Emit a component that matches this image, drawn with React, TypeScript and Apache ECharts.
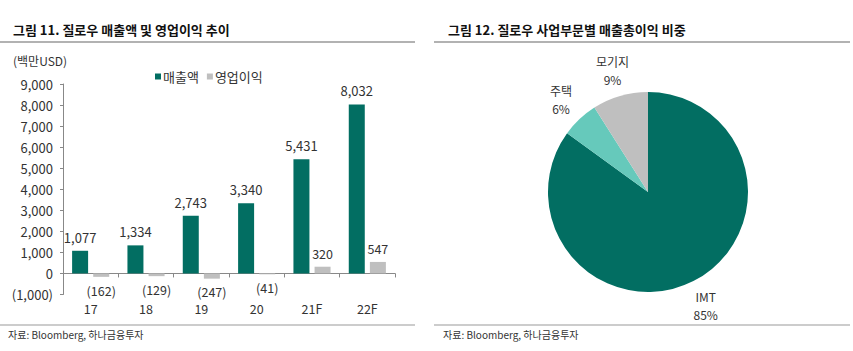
import React, { useEffect, useRef } from "react";
import * as echarts from "echarts";

const categories = ["17", "18", "19", "20", "21F", "22F"];
const revenue = [1077, 1334, 2743, 3340, 5431, 8032];
const operatingProfit = [-162, -129, -247, -41, 320, 547];
const seriesNames = ["매출액", "영업이익"];
const pieNames = ["IMT", "주택", "모기지"];
const pieValues = [85, 6, 9];
const titleLeft = "그림 11. 질로우 매출액 및 영업이익 추이";
const titleRight = "그림 12. 질로우 사업부문별 매출총이익 비중";
const sourceText = "자료: Bloomberg, 하나금융투자";
const unitText = "(백만USD)";

const FONT = "'Noto Sans CJK KR', 'Noto Sans', sans-serif";
const TEAL = "#026e62";
const GRAY = "#bfbfbf";
const LIGHT_TEAL = "#66c9bb";
const TEXT = "#333333";

const fmt = (v: number) =>
  v < 0 ? `(${Math.abs(v).toLocaleString("en-US")})` : v.toLocaleString("en-US");

export default function App() {
  const ref = useRef<HTMLDivElement>(null);
  useEffect(() => {
    if (!ref.current) return;
    const chart = echarts.init(ref.current, undefined, { renderer: "svg" });
    const option: any = {
      animation: false,
      backgroundColor: "#ffffff",
      textStyle: { fontFamily: FONT },
      title: [
        {
          text: titleLeft,
          left: 8,
          top: 18,
          textStyle: { fontFamily: FONT, fontSize: 13, fontWeight: "bold", color: "#111" },
        },
        {
          text: titleRight,
          left: 443,
          top: 18,
          textStyle: { fontFamily: FONT, fontSize: 13, fontWeight: "bold", color: "#111" },
        },
      ],
      graphic: [
        { type: "line", shape: { x1: 0, y1: 42, x2: 415, y2: 42 }, style: { stroke: "#999", lineWidth: 1.5 } },
        { type: "line", shape: { x1: 434, y1: 42, x2: 850, y2: 42 }, style: { stroke: "#999", lineWidth: 1.5 } },
        { type: "line", shape: { x1: 0, y1: 325, x2: 415, y2: 325 }, style: { stroke: "#999", lineWidth: 1 } },
        { type: "line", shape: { x1: 434, y1: 325, x2: 850, y2: 325 }, style: { stroke: "#999", lineWidth: 1 } },
        {
          type: "text",
          left: 8,
          top: 329,
          style: { text: sourceText, fontFamily: FONT, fontSize: 10, fill: TEXT },
        },
        {
          type: "text",
          left: 443,
          top: 329,
          style: { text: sourceText, fontFamily: FONT, fontSize: 10, fill: TEXT },
        },
        {
          type: "text",
          left: 13,
          top: 54,
          style: { text: unitText, fontFamily: FONT, fontSize: 12, fill: TEXT },
        },
      ],
      legend: {
        left: 150,
        top: 65,
        itemWidth: 6,
        itemHeight: 6,
        itemGap: 8,
        icon: "rect",
        data: seriesNames,
        textStyle: { fontFamily: FONT, fontSize: 13, color: TEXT, padding: [0, 0, 0, -3] },
      },
      grid: { left: 63, top: 84, width: 332, height: 210.5, containLabel: false },
      xAxis: {
        type: "category",
        data: categories,
        axisLine: { onZero: true, lineStyle: { color: "#888", width: 1 } },
        axisTick: { show: true, length: 4, lineStyle: { color: "#888" } },
        axisLabel: { margin: 8, fontFamily: FONT, fontSize: 12.5, color: TEXT },
      },
      yAxis: {
        type: "value",
        min: -1000,
        max: 9000,
        interval: 1000,
        splitLine: { show: false },
        axisLine: { show: true, lineStyle: { color: "#888", width: 1 } },
        axisTick: { show: true, length: 3, lineStyle: { color: "#888" } },
        axisLabel: {
          margin: 10,
          fontFamily: FONT,
          fontSize: 13,
          color: TEXT,
          formatter: (v: number) => fmt(v),
        },
      },
      series: [
        {
          name: seriesNames[0],
          type: "bar",
          data: revenue,
          barWidth: 16,
          barGap: "32%",
          itemStyle: { color: TEAL },
          label: {
            show: true,
            position: "top",
            distance: 7,
            fontFamily: FONT,
            fontSize: 13,
            color: TEXT,
            formatter: (p: any) => fmt(p.value),
          },
        },
        {
          name: seriesNames[1],
          type: "bar",
          data: operatingProfit.map((v) => ({
            value: v,
            label: { position: v < 0 ? "bottom" : "top", distance: 7 },
          })),
          barWidth: 16,
          itemStyle: { color: GRAY },
          label: {
            show: true,
            fontFamily: FONT,
            fontSize: 12.5,
            color: TEXT,
            formatter: (p: any) => fmt(p.value),
          },
        },
        {
          type: "pie",
          center: [648, 192],
          radius: 100,
          startAngle: 90,
          clockwise: true,
          avoidLabelOverlap: false,
          data: pieNames.map((n, i) => ({ name: n, value: pieValues[i] })),
          color: [TEAL, LIGHT_TEAL, GRAY],
          label: {
            show: true,
            position: "outside",
            formatter: "{b}\n{c}%",
            fontFamily: FONT,
            fontSize: 12,
            lineHeight: 18,
            color: TEXT,
            distanceToLabelLine: 0,
          },
          labelLine: { show: false, length: 27, length2: 0 },
          labelLayout: () => ({ align: "center", verticalAlign: "middle" }),
          emphasis: { disabled: true },
        },
      ],
    };
    chart.setOption(option);
    return () => chart.dispose();
  }, []);
  return (
    <div
      ref={ref}
      style={{ position: "fixed", left: 0, top: 0, width: 853, height: 351, background: "#fff" }}
    />
  );
}
